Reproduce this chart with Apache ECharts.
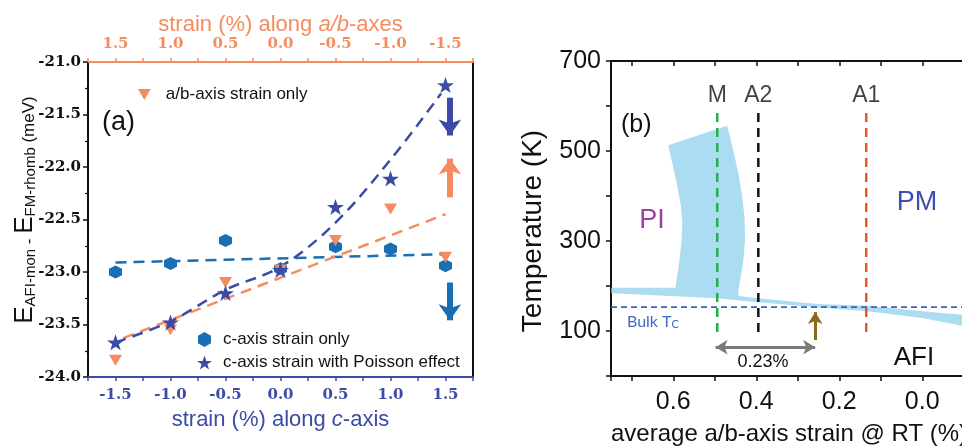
<!DOCTYPE html>
<html><head><meta charset="utf-8">
<script src="https://cdn.jsdelivr.net/npm/echarts@6/dist/echarts.min.js"></script>
<style>html,body{margin:0;padding:0;background:#fff}#c{width:962px;height:446px}</style>
</head><body><div id="c"></div>
<script>
// ---------- Panel (a) data ----------
const cStrain = [-1.5, -1.0, -0.5, 0.0, 0.5, 1.0, 1.5];          // bottom axis (c-axis strain %)
const abStrain = [1.5, 1.0, 0.5, 0.0, -0.5, -1.0, -1.5];          // top axis (a/b-axis strain %)
const energyCOnly = [-23.00, -22.92, -22.70, -22.97, -22.76, -22.78, -22.94];
const energyPoisson = [-23.67, -23.48, -23.20, -22.98, -22.38, -22.11, -21.22];
const energyAbOnly = [-23.84, -23.55, -23.10, -22.98, -22.70, -22.40, -22.86];
const fitCOnlyX = [-1.5, 1.5];
const fitCOnly = [-22.91, -22.83];
const fitAbX = [1.43, -1.5];
const fitAb = [-23.63, -22.45];
const fitPoissonX = [-1.5, -1.0, -0.5, 0.0, 0.5, 1.0, 1.46];
const fitPoisson = [-23.67, -23.47, -23.17, -22.95, -22.53, -21.93, -21.30];
const arrowX = 1.54;
const arrowFrom = [-21.34, -22.29, -23.10];
const arrowTo = [-21.70, -21.92, -23.46];
const yTicksA = [-24.0, -23.5, -23.0, -22.5, -22.0, -21.5, -21.0];

// ---------- Panel (b) data ----------
const bandX = [0.749, 0.595, 0.586, 0.580, 0.578, 0.582, 0.590, 0.600, 0.612,
               0.470, 0.455, 0.443, 0.434, 0.428, 0.427, 0.432, 0.443,
               0.443, 0.395, 0.253, 0.133, 0.000, -0.100,
               -0.100, 0.000, 0.133, 0.253, 0.395, 0.494, 0.749];
const bandT = [196, 196, 250, 300, 340, 380, 420, 464, 513,
               556, 500, 450, 400, 350, 300, 250, 190,
               178, 173, 160, 156, 144, 136,
               111, 129, 144, 153, 164, 173, 184];
const bulkTc = 153;
const phaseNames = ['M', 'A2', 'A1'];
const phaseX = [0.494, 0.395, 0.135];
const phaseLineT = [98, 587];
const phaseLabelT = 622;
const shiftArrowX = 0.258;
const shiftArrowT = [80, 142];
const gapArrowX = [0.498, 0.258];
const gapArrowT = 64;

// ---------- styles ----------
const SANS = 'Liberation Sans, Arial, sans-serif';
const SERIF = 'DejaVu Serif, serif';
const ORANGE = '#f58c5f', NAVY = '#3c4ba5', STEEL = '#1a6eb4';
const PHASE_COLORS = ['#22b24c', '#111111', '#e8552b'];
const triPath = 'path://M0,0 L10,0 L5,8.66 Z';
const hexPath = 'path://M5,0 L9.33,2.5 L9.33,7.5 L5,10 L0.67,7.5 L0.67,2.5 Z';
const starPath = 'path://M50,0 L61.8,35.1 L98.1,35.1 L68.8,56.7 L79.4,91 L50,70 L20.6,91 L31.2,56.7 L1.9,35.1 L38.2,35.1 Z';

const isMult = (v, step) => Math.abs(v / step - Math.round(v / step)) < 1e-6;
const fmt1 = v => (Math.abs(v) < 1e-9 ? '0.0' : v.toFixed(1));
const zip = (xs, ys) => xs.map((x, i) => [x, ys[i]]);

const chart = echarts.init(document.getElementById('c'));
const option = {
  animation: false,
  backgroundColor: '#fff',
  textStyle: { fontFamily: SANS },
  grid: [
    { left: 88, top: 62, width: 385, height: 315, containLabel: false, outerBoundsMode: 'none' },
    { left: 611, top: 61, width: 352.75, height: 315, containLabel: false, outerBoundsMode: 'none' }
  ],
  xAxis: [
    { gridIndex: 0, type: 'value', position: 'bottom', min: -1.75, max: 1.75, interval: 0.25,
      axisLine: { show: true, onZero: false, lineStyle: { color: NAVY, width: 2 } },
      axisTick: { show: true, inside: false, length: 4, lineStyle: { color: NAVY, width: 1.5 } },
      axisLabel: { color: NAVY, fontFamily: SERIF, fontWeight: 'bold', fontSize: 15, margin: 11,
        formatter: v => isMult(v, 0.5) ? fmt1(v) : '' },
      splitLine: { show: false },
      name: '{n|strain (%) along }{i|c}{n|-axis}', nameLocation: 'middle', nameGap: 32,
      nameTextStyle: { rich: {
        n: { fontSize: 22, color: NAVY, fontFamily: SANS },
        i: { fontSize: 22, color: NAVY, fontFamily: SANS, fontStyle: 'italic' } } } },
    { gridIndex: 0, type: 'value', position: 'top', inverse: true, min: -1.75, max: 1.75, interval: 0.25,
      axisLine: { show: true, onZero: false, lineStyle: { color: ORANGE, width: 2 } },
      axisTick: { show: true, inside: false, length: 4, lineStyle: { color: ORANGE, width: 1.5 } },
      axisLabel: { color: ORANGE, fontFamily: SERIF, fontWeight: 'bold', fontSize: 15, margin: 10,
        formatter: v => isMult(v, 0.5) ? fmt1(v) : '' },
      splitLine: { show: false },
      name: '{n|strain (%) along }{i|a/b}{n|-axes}', nameLocation: 'middle', nameGap: 26, nameMoveOverlap: false,
      nameTextStyle: { rich: {
        n: { fontSize: 22, color: ORANGE, fontFamily: SANS },
        i: { fontSize: 22, color: ORANGE, fontFamily: SANS, fontStyle: 'italic' } } } },
    { gridIndex: 1, type: 'value', position: 'bottom', inverse: true, min: -0.1, max: 0.75, interval: 0.1,
      axisLine: { show: true, onZero: false, lineStyle: { color: '#111', width: 2 } },
      axisTick: { show: true, inside: false, length: 5, lineStyle: { color: '#111', width: 1.5 } },
      axisLabel: { color: '#111', fontSize: 25, margin: 14, fontFamily: SANS,
        formatter: v => isMult(v, 0.2) ? fmt1(v) : '' },
      splitLine: { show: false } },
    { gridIndex: 1, type: 'value', position: 'top', inverse: true, min: -0.1, max: 0.75, interval: 0.1,
      axisLine: { show: true, onZero: false, lineStyle: { color: '#111', width: 2 } },
      axisTick: { show: true, inside: true, length: 5, lineStyle: { color: '#111', width: 1.5 } },
      axisLabel: { show: false }, splitLine: { show: false } }
  ],
  yAxis: [
    { gridIndex: 0, type: 'value', min: yTicksA[0], max: yTicksA[yTicksA.length - 1], interval: 0.5,
      axisLine: { show: true, onZero: false, lineStyle: { color: '#111', width: 2 } },
      axisTick: { show: true, inside: false, length: 5, lineStyle: { color: '#111', width: 1.5 } },
      minorTick: { show: true, splitNumber: 2, length: 3, lineStyle: { color: '#111', width: 1.2 } },
      axisLabel: { color: '#111', fontFamily: SERIF, fontWeight: 'bold', fontSize: 15, margin: 7, formatter: v => fmt1(v) },
      splitLine: { show: false }, minorSplitLine: { show: false } },
    { gridIndex: 0, type: 'value', position: 'right', min: -24, max: -21,
      axisLine: { show: true, onZero: false, lineStyle: { color: '#111', width: 2 } },
      axisTick: { show: false }, axisLabel: { show: false }, splitLine: { show: false } },
    { gridIndex: 1, type: 'value', min: 0, max: 700, interval: 100,
      axisLine: { show: true, onZero: false, lineStyle: { color: '#111', width: 2 } },
      axisTick: { show: true, inside: false, length: 5, lineStyle: { color: '#111', width: 1.5 } },
      axisLabel: { color: '#111', fontSize: 25, margin: 10, fontFamily: SANS,
        formatter: v => (Math.round(v / 100) % 2 === 1 ? String(v) : '') },
      splitLine: { show: false } }
  ],
  legend: [
    { data: [{ name: 'a/b-axis strain only', icon: triPath }], left: 138, top: 86, padding: 0,
      itemWidth: 13, itemHeight: 11, selectedMode: false,
      textStyle: { fontSize: 17, color: '#111', fontFamily: SANS, padding: [0, 0, 0, 10] } },
    { data: [{ name: 'c-axis strain only', icon: hexPath }, { name: 'c-axis strain with Poisson effect', icon: starPath }],
      orient: 'vertical', left: 197, top: 331, padding: 0, itemGap: 6,
      itemWidth: 15, itemHeight: 15, selectedMode: false,
      textStyle: { fontSize: 17, color: '#111', fontFamily: SANS, padding: [0, 0, 0, 6] } }
  ],
  series: [
    { type: 'line', xAxisIndex: 0, yAxisIndex: 0, data: zip(fitCOnlyX, fitCOnly), symbol: 'none', z: 2,
      lineStyle: { color: STEEL, width: 2.5, type: [11, 7] } },
    { type: 'line', xAxisIndex: 1, yAxisIndex: 0, data: zip(fitAbX, fitAb), symbol: 'none', z: 2,
      lineStyle: { color: ORANGE, width: 2.5, type: [11, 7] } },
    { type: 'line', xAxisIndex: 0, yAxisIndex: 0, data: zip(fitPoissonX, fitPoisson), symbol: 'none', smooth: 0.35, z: 2,
      lineStyle: { color: NAVY, width: 2.5, type: [11, 7] } },
    { name: 'c-axis strain only', type: 'scatter', xAxisIndex: 0, yAxisIndex: 0, data: zip(cStrain, energyCOnly),
      symbol: hexPath, symbolSize: 13, itemStyle: { color: STEEL, opacity: 1 }, z: 3 },
    { name: 'a/b-axis strain only', type: 'scatter', xAxisIndex: 1, yAxisIndex: 0, data: zip(abStrain, energyAbOnly),
      symbol: triPath, symbolSize: [13, 11], itemStyle: { color: ORANGE, opacity: 1 }, z: 4 },
    { name: 'c-axis strain with Poisson effect', type: 'scatter', xAxisIndex: 0, yAxisIndex: 0, data: zip(cStrain, energyPoisson),
      symbol: starPath, symbolSize: [17, 16], itemStyle: { color: NAVY, opacity: 1 }, z: 5 },
    { type: 'line', xAxisIndex: 0, yAxisIndex: 0, data: [], silent: true,
      markLine: { silent: true, animation: false, symbol: ['none', 'arrow'], symbolSize: [17, 16],
        label: { show: false }, emphasis: { disabled: true },
        data: arrowFrom.map((y0, i) => [
          { coord: [arrowX, y0], lineStyle: { color: [NAVY, ORANGE, STEEL][i], width: 6, type: 'solid' } },
          { coord: [arrowX, arrowTo[i]] }]) } },
    // panel (b)
    { type: 'custom', xAxisIndex: 2, yAxisIndex: 2, clip: true, silent: true, z: 1,
      data: zip(bandX, bandT),
      renderItem: (params, api) => {
        if (params.dataIndex !== 0) return null;
        const pts = bandX.map((x, i) => api.coord([x, bandT[i]]));
        return { type: 'polygon', shape: { points: pts, smooth: 0 }, style: { fill: '#abdcf2', stroke: null } };
      } },
    { type: 'line', xAxisIndex: 2, yAxisIndex: 2, data: [[0.75, bulkTc], [-0.1, bulkTc]], symbol: 'none', z: 3,
      lineStyle: { color: '#3e62c2', width: 1.6, type: [6, 4] } },
    ...phaseX.map((x, i) => ({ type: 'line', xAxisIndex: 2, yAxisIndex: 2, symbol: 'none', z: 4,
      data: [[x, phaseLineT[0]], [x, phaseLineT[1]]],
      lineStyle: { color: PHASE_COLORS[i], width: 2.5, type: [9, 6] } })),
    { type: 'scatter', xAxisIndex: 2, yAxisIndex: 2, symbolSize: 0, silent: true,
      data: phaseX.map((x, i) => ({ value: [x, phaseLabelT], name: phaseNames[i] })),
      label: { show: true, position: 'inside', formatter: p => p.name, fontSize: 23, color: '#111', fontFamily: SANS } },
    { type: 'line', xAxisIndex: 2, yAxisIndex: 2, data: [], silent: true,
      markLine: { silent: true, animation: false, symbolSize: [11, 12], label: { show: false },
        data: [
          [{ coord: [shiftArrowX, shiftArrowT[0]], symbol: 'none', lineStyle: { color: '#8a6a22', width: 3, type: 'solid' } },
           { coord: [shiftArrowX, shiftArrowT[1]], symbol: 'arrow' }],
          [{ coord: [gapArrowX[0], gapArrowT], symbol: 'arrow', lineStyle: { color: '#7a7a7a', width: 3, type: 'solid' } },
           { coord: [gapArrowX[1], gapArrowT], symbol: 'arrow' }]
        ] } }
  ],
  graphic: [
    { type: 'text', x: 25, y: 210, rotation: Math.PI / 2,
      style: { text: '{b|E}{s|AFI-mon}{m| - }{b|E}{s|FM-rhomb}{u| (meV)}', align: 'center', verticalAlign: 'middle',
        rich: {
          b: { fontSize: 26, fontFamily: SANS, fill: '#111', verticalAlign: 'bottom', lineHeight: 26 },
          s: { fontSize: 15, fontFamily: SANS, fill: '#111', verticalAlign: 'bottom', lineHeight: 8 },
          m: { fontSize: 17, fontFamily: SANS, fill: '#111', verticalAlign: 'bottom', lineHeight: 24 },
          u: { fontSize: 17, fontFamily: SANS, fill: '#111', verticalAlign: 'bottom', lineHeight: 20 } } } },
    { type: 'text', x: 102, y: 123, style: { text: '(a)', fontSize: 27, fontFamily: SANS, fill: '#111', verticalAlign: 'middle' } },
    { type: 'text', x: 621, y: 125, style: { text: '(b)', fontSize: 25, fontFamily: SANS, fill: '#111', verticalAlign: 'middle' } },
    { type: 'text', x: 652, y: 221, style: { text: 'PI', fontSize: 27, fontFamily: SANS, fill: '#a03ea6', align: 'center', verticalAlign: 'middle' } },
    { type: 'text', x: 917, y: 203, style: { text: 'PM', fontSize: 27, fontFamily: SANS, fill: '#3b4fae', align: 'center', verticalAlign: 'middle' } },
    { type: 'text', x: 914, y: 358, style: { text: 'AFI', fontSize: 26, fontFamily: SANS, fill: '#111', align: 'center', verticalAlign: 'middle' } },
    { type: 'text', x: 763, y: 362, style: { text: '0.23%', fontSize: 18, fontFamily: SANS, fill: '#111', align: 'center', verticalAlign: 'middle' } },
    { type: 'text', x: 627, y: 321, style: { text: '{n|Bulk T}{s|C}', verticalAlign: 'middle',
        rich: { n: { fontSize: 16, fontFamily: 'Lato, Open Sans, sans-serif', fill: '#4169c4', verticalAlign: 'bottom', lineHeight: 17 },
                s: { fontSize: 11, fontFamily: 'Lato, Open Sans, sans-serif', fill: '#4169c4', verticalAlign: 'bottom', lineHeight: 6 } } } },
    { type: 'text', x: 533, y: 231, rotation: Math.PI / 2,
      style: { text: 'Temperature (K)', fontSize: 28, fontFamily: SANS, fill: '#111', align: 'center', verticalAlign: 'middle' } },
    { type: 'text', x: 611, y: 434,
      style: { text: 'average a/b-axis strain @ RT (%)', fontSize: 24, fontFamily: SANS, fill: '#111', verticalAlign: 'middle' } }
  ]
};
chart.setOption(option);
</script>
</body></html>
